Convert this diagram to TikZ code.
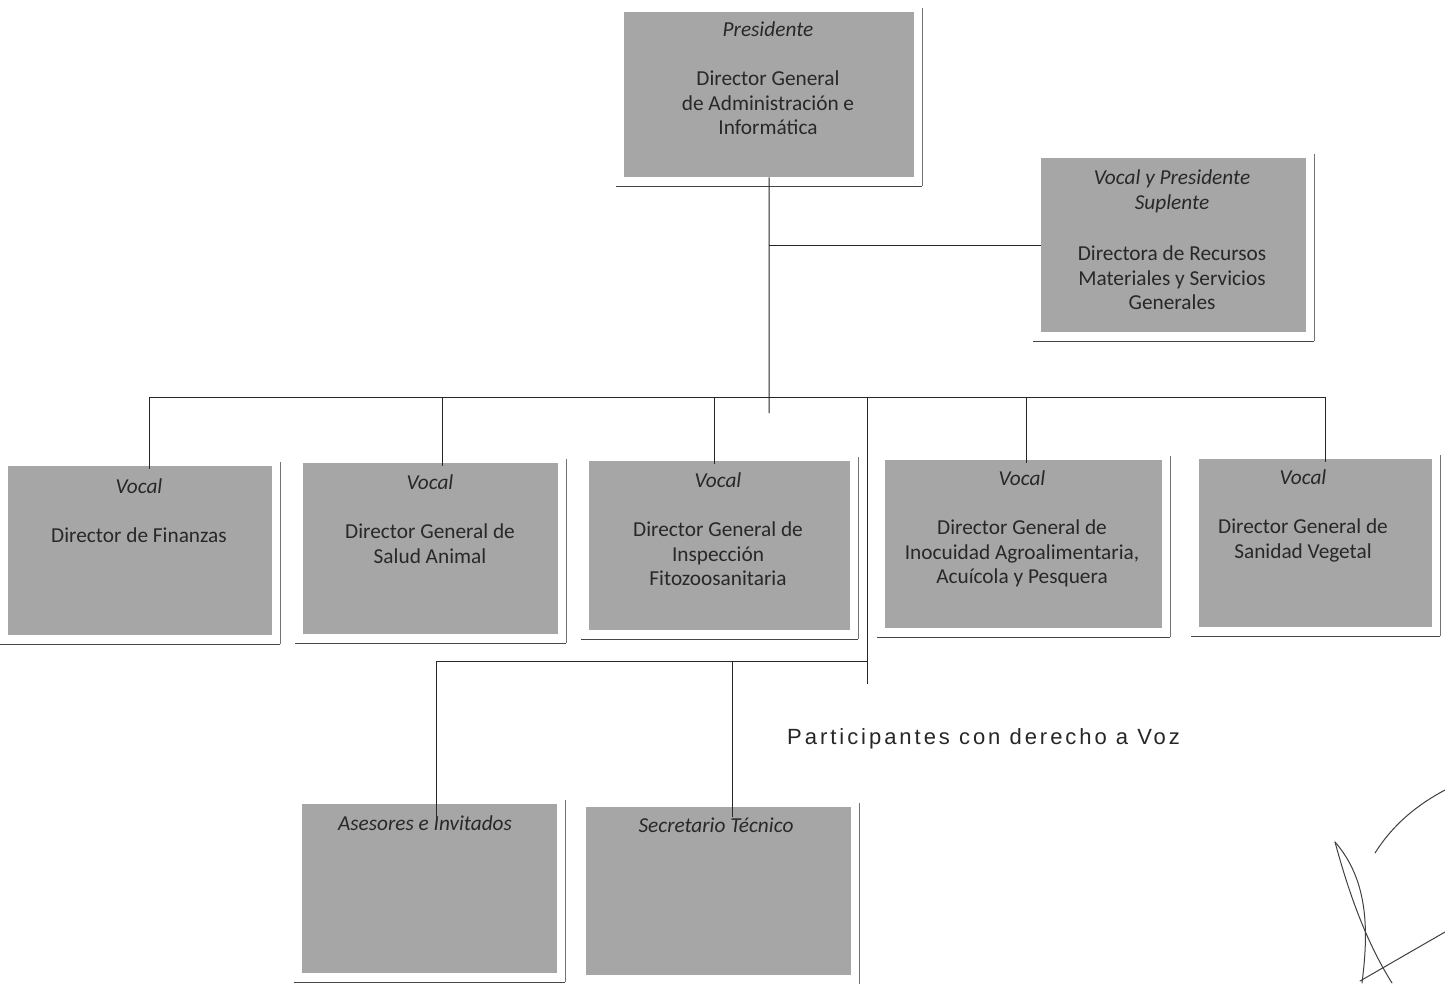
\documentclass[tikz,border=0pt]{standalone}
\usepackage{fontspec}
\setmainfont{Carlito}
\newfontfamily\partfont[LetterSpace=13.5]{Liberation Sans}
\usetikzlibrary{calc}
\definecolor{boxgray}{RGB}{166,166,166}
\definecolor{txt}{RGB}{40,40,40}
\definecolor{shad}{RGB}{70,70,70}
\begin{document}
\begin{tikzpicture}[x=1pt,y=-1pt,
  orgbox/.style={draw=none, fill=boxgray, inner sep=0, anchor=north west},
  boxtext/.style={anchor=north, align=center, inner sep=0, text=txt, font=\fontsize{21.3}{24.5}\selectfont},
  conn/.style={draw=black!85, line width=1pt},
  shadowline/.style={draw=shad, line width=1.8pt},
  sideline/.style={draw=black!55, line width=0.8pt},
  sig/.style={draw=black!75, line width=1pt, line cap=round}]
\useasboundingbox (0,0) rectangle (1445,983);
\fill[white] (0,0) rectangle (1445,983);

% boxes
\node[orgbox, minimum width=290, minimum height=165] (pres) at (624,12) {};
\node[orgbox, minimum width=265, minimum height=174] (sup) at (1041,158) {};
\node[orgbox, minimum width=264, minimum height=169] (b1) at (8,466) {};
\node[orgbox, minimum width=255, minimum height=171] (b2) at (303,463) {};
\node[orgbox, minimum width=261, minimum height=169] (b3) at (589,461) {};
\node[orgbox, minimum width=277, minimum height=168] (b4) at (885,460) {};
\node[orgbox, minimum width=233, minimum height=168] (b5) at (1199,459) {};
\node[orgbox, minimum width=255, minimum height=169] (ases) at (302,804) {};
\node[orgbox, minimum width=265, minimum height=168] (sec) at (586,807) {};

% shadow lines
\foreach \b in {pres,sup,b1,b2,b3,b4,b5,ases,sec}{
  \draw[shadowline] ($(\b.south west)+(-8,9)$) -- ($(\b.south east)+(8,9)$);
  \draw[sideline] ($(\b.north east)+(8,-4)$) -- ($(\b.south east)+(8,9)$);
}

% texts
\node[boxtext] (tpres) at (768,22) {\textit{Presidente}\\[24.5pt]Director General\\de Administración e\\Informática};
\node[boxtext] (tsup) at (1172,170) {\textit{Vocal y Presidente}\\\textit{Suplente}\\[27pt]Directora de Recursos\\Materiales y Servicios\\Generales};
\node[boxtext] (tb1) at (139,479) {\textit{Vocal}\\[24.5pt]Director de Finanzas};
\node[boxtext] (tb2) at (430,475) {\textit{Vocal}\\[24.5pt]Director General de\\Salud Animal};
\node[boxtext] (tb3) at (718,473) {\textit{Vocal}\\[24.5pt]Director General de\\Inspección\\Fitozoosanitaria};
\node[boxtext] (tb4) at (1022,471) {\textit{Vocal}\\[24.5pt]Director General de\\Inocuidad Agroalimentaria,\\Acuícola y Pesquera};
\node[boxtext] (tb5) at (1303,470) {\textit{Vocal}\\[24.5pt]Director General de\\Sanidad Vegetal};
\node[boxtext] (tases) at (425,815) {\textit{Asesores e Invitados}};
\node[boxtext] (tsec) at (716,818) {\textit{Secretario Técnico}};

\node[anchor=base west, inner sep=0, text=black!85, font=\partfont\fontsize{22}{26}\selectfont] (part) at (787,744) {Participantes con derecho a Voz};

% connectors
\coordinate (pj) at (769,413);
\draw[conn] (pres.south) -- (pj);
\draw[conn] (pres.south |- sup.west) -- (sup.west);
\coordinate (j1) at (149,397);
\coordinate (j2) at (442,397);
\coordinate (j3) at (714,397);
\coordinate (j4) at (1026,397);
\coordinate (j5) at (1325,397);
\coordinate (j6) at (867,397);
\coordinate (vend) at (867,684);
\draw[conn] (j1) -- (j5);
\draw[conn] (j1) -- ($(j1 |- b1.north)+(0,3)$);
\draw[conn] (j2) -- ($(j2 |- b2.north)+(0,3)$);
\draw[conn] (j3) -- ($(j3 |- b3.north)+(0,3)$);
\draw[conn] (j4) -- ($(j4 |- b4.north)+(0,3)$);
\draw[conn] (j5) -- ($(j5 |- b5.north)+(0,3)$);
\draw[conn] (j6) -- (vend);
\coordinate (lr) at (867,661);
\coordinate (ll) at (436,661);
\coordinate (lm) at (732,661);
\draw[conn] (ll) -- (lr);
\draw[conn] (ll) -- ($(ll |- ases.north)+(0,13)$);
\draw[conn] (lm) -- ($(lm |- sec.north)+(0,10)$);

% signature
\draw[sig] (1375,853) .. controls (1392,826) and (1415,806) .. (1445,790);
\draw[sig] (1335,842) .. controls (1348,890) and (1365,940) .. (1392,983);
\draw[sig] (1335,842) .. controls (1370,882) and (1368,935) .. (1362,983);
\draw[sig] (1360,981) -- (1445,932);
\end{tikzpicture}
\end{document}
